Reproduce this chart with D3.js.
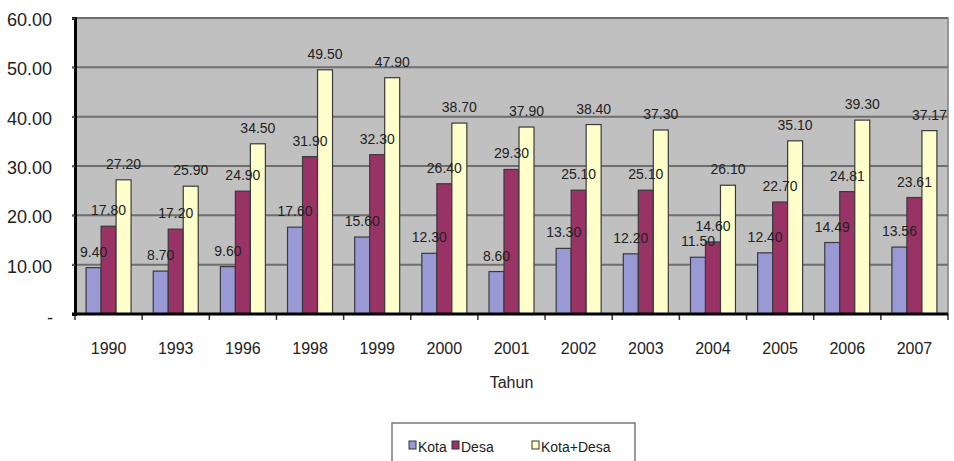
<!DOCTYPE html>
<html>
<head>
<meta charset="utf-8">
<script src="https://cdn.jsdelivr.net/npm/d3@7"></script>
<style>
  html, body { margin: 0; padding: 0; background: #fff; }
  svg { display: block; font-family: "Liberation Sans", Arial, sans-serif; }
</style>
</head>
<body>
<svg id="chart" width="954" height="461"></svg>
<script>
// Tahun (years) on the x axis
const years = ["1990", "1993", "1996", "1998", "1999", "2000", "2001", "2002", "2003", "2004", "2005", "2006", "2007"];
// Series names
const seriesNames = ["Kota", "Desa", "Kota+Desa"];
// Values per series
const kota     = [9.40, 8.70, 9.60, 17.60, 15.60, 12.30, 8.60, 13.30, 12.20, 11.50, 12.40, 14.49, 13.56];
const desa     = [17.80, 17.20, 24.90, 31.90, 32.30, 26.40, 29.30, 25.10, 25.10, 14.60, 22.70, 24.81, 23.61];
const kotaDesa = [27.20, 25.90, 34.50, 49.50, 47.90, 38.70, 37.90, 38.40, 37.30, 26.10, 35.10, 39.30, 37.17];
// Y axis ticks
const yTicks = [0, 10, 20, 30, 40, 50, 60];

const seriesValues = [kota, desa, kotaDesa];
const colors = ["#9999d6", "#993366", "#ffffcc"];
const FONT = "'Liberation Sans', Arial, sans-serif";

const svg = d3.select("#chart");
const plot = { left: 75, right: 948, top: 18, bottom: 314 };

const x0 = d3.scaleBand()
  .domain(years)
  .range([plot.left, plot.right])
  .paddingInner(0.33)
  .paddingOuter(0.165);

const x1 = d3.scaleBand()
  .domain(seriesNames)
  .range([0, x0.bandwidth()]);

const y = d3.scaleLinear()
  .domain([0, 60])
  .range([plot.bottom, plot.top]);

const color = d3.scaleOrdinal().domain(seriesNames).range(colors);

// Plot background
svg.append("rect")
  .attr("x", plot.left)
  .attr("y", plot.top)
  .attr("width", plot.right - plot.left)
  .attr("height", plot.bottom - plot.top)
  .attr("fill", "#c0c0c0")
  .attr("stroke", "#808080")
  .attr("stroke-width", 1.5);

// Horizontal gridlines
svg.append("g")
  .selectAll("line")
  .data(yTicks.filter(d => d > 0))
  .join("line")
  .attr("x1", plot.left - 3)
  .attr("x2", plot.right)
  .attr("y1", d => y(d))
  .attr("y2", d => y(d))
  .attr("stroke", "#6e6e6e")
  .attr("stroke-width", 2);

// Bars
const groups = svg.append("g")
  .selectAll("g")
  .data(years.map((yr, i) => ({ yr, vals: seriesNames.map((s, k) => ({ s, v: seriesValues[k][i] })) })))
  .join("g")
  .attr("transform", d => `translate(${x0(d.yr)},0)`);

groups.selectAll("rect")
  .data(d => d.vals)
  .join("rect")
  .attr("x", d => x1(d.s))
  .attr("y", d => y(d.v))
  .attr("width", x1.bandwidth())
  .attr("height", d => y(0) - y(d.v))
  .attr("fill", d => color(d.s))
  .attr("stroke", "#3a3a3a")
  .attr("stroke-width", 1.2);

// Value labels
groups.selectAll("text")
  .data(d => d.vals)
  .join("text")
  .attr("x", d => x1(d.s) + x1.bandwidth() / 2)
  .attr("y", d => y(d.v) - 11)
  .attr("text-anchor", "middle")
  .attr("font-family", FONT)
  .attr("font-size", 14)
  .attr("fill", "#222")
  .text(d => d.v.toFixed(2));

// Y axis
const yAxis = d3.axisLeft(y)
  .tickValues(yTicks)
  .tickSize(3)
  .tickPadding(20)
  .tickFormat(d => d === 0 ? "-" : d3.format(".2f")(d));

const yg = svg.append("g")
  .attr("transform", `translate(${plot.left},0)`)
  .call(yAxis);
yg.attr("font-family", FONT);
yg.select(".domain").attr("stroke", "#000").attr("stroke-width", 3);
yg.selectAll(".tick line").attr("stroke", "#555").attr("stroke-width", 1.5);
yg.selectAll(".tick text")
  .attr("font-size", 18)
  .attr("fill", "#222")
  .attr("dy", "0.42em");
yg.selectAll(".tick text").filter(d => d === 0).attr("x", -22).attr("dy", "0.5em");

// X axis baseline with ticks at category boundaries
const boundaries = years.map(yr => x0(yr) - x0.step() * x0.paddingOuter()).concat([plot.right]);
svg.append("g")
  .selectAll("line")
  .data(boundaries)
  .join("line")
  .attr("x1", d => d)
  .attr("x2", d => d)
  .attr("y1", plot.bottom)
  .attr("y2", plot.bottom + 6)
  .attr("stroke", "#333")
  .attr("stroke-width", 1.5);

svg.append("line")
  .attr("x1", plot.left - 3)
  .attr("x2", plot.right)
  .attr("y1", plot.bottom)
  .attr("y2", plot.bottom)
  .attr("stroke", "#000")
  .attr("stroke-width", 3);

// Year labels
svg.append("g")
  .selectAll("text")
  .data(years)
  .join("text")
  .attr("x", d => x0(d) + x0.bandwidth() / 2)
  .attr("y", 354)
  .attr("text-anchor", "middle")
  .attr("font-family", FONT)
  .attr("font-size", 16)
  .attr("fill", "#222")
  .text(d => d);

// Axis title
svg.append("text")
  .attr("x", (plot.left + plot.right) / 2)
  .attr("y", 388)
  .attr("text-anchor", "middle")
  .attr("font-family", FONT)
  .attr("font-size", 16)
  .attr("fill", "#222")
  .text("Tahun");

// Legend
const legend = svg.append("g");
legend.append("rect")
  .attr("x", 392)
  .attr("y", 423)
  .attr("width", 243)
  .attr("height", 50)
  .attr("fill", "#fff")
  .attr("stroke", "#7a7a7a")
  .attr("stroke-width", 1.5);

const legendPos = [409, 452, 532];
const items = legend.selectAll("g.item")
  .data(seriesNames)
  .join("g")
  .attr("class", "item")
  .attr("transform", (d, i) => `translate(${legendPos[i]},0)`);
items.append("rect")
  .attr("x", 0)
  .attr("y", 441)
  .attr("width", 7)
  .attr("height", 8)
  .attr("fill", d => color(d))
  .attr("stroke", "#333")
  .attr("stroke-width", 1);
items.append("text")
  .attr("x", 9)
  .attr("y", 452)
  .attr("font-family", FONT)
  .attr("font-size", 14)
  .attr("fill", "#222")
  .text(d => d);
</script>
</body>
</html>
